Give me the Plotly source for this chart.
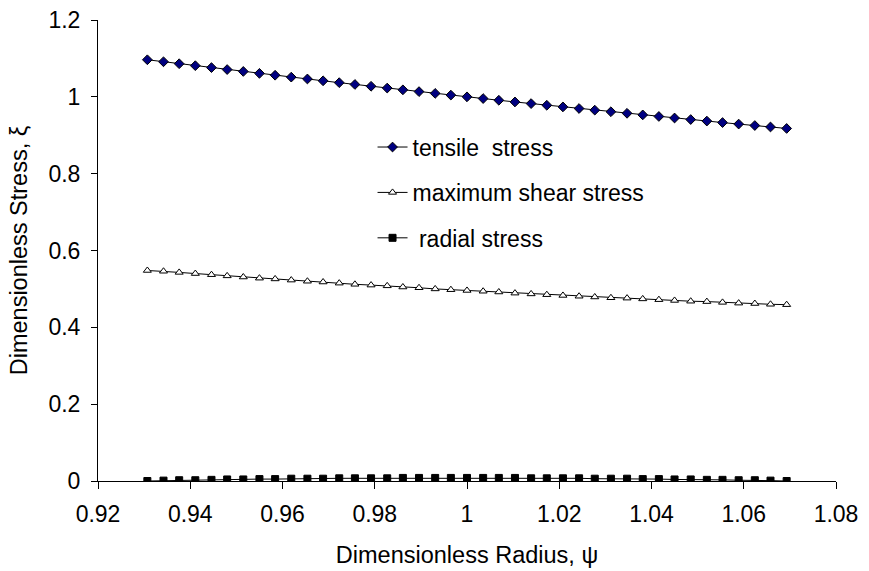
import plotly.graph_objects as go

# Dimensionless radius ψ at each computed station
psi = [0.9307, 0.9342, 0.9376, 0.9411, 0.9446, 0.9480, 0.9515, 0.9550, 0.9584, 0.9619,
       0.9654, 0.9688, 0.9723, 0.9757, 0.9792, 0.9827, 0.9861, 0.9896, 0.9931, 0.9965,
       1.0000, 1.0035, 1.0069, 1.0104, 1.0139, 1.0173, 1.0208, 1.0243, 1.0277, 1.0312,
       1.0347, 1.0381, 1.0416, 1.0450, 1.0485, 1.0520, 1.0554, 1.0589, 1.0624, 1.0658,
       1.0693]

# Dimensionless stresses ξ
tensile = [1.0965, 1.0913, 1.0862, 1.0811, 1.0761, 1.0710, 1.0661, 1.0611, 1.0562, 1.0513,
           1.0465, 1.0417, 1.0369, 1.0322, 1.0275, 1.0228, 1.0182, 1.0136, 1.0090, 1.0045,
           1.0000, 0.9955, 0.9911, 0.9867, 0.9824, 0.9781, 0.9738, 0.9696, 0.9654, 0.9612,
           0.9571, 0.9530, 0.9489, 0.9449, 0.9409, 0.9369, 0.9330, 0.9291, 0.9253, 0.9215,
           0.9177]

shear = [0.548, 0.546, 0.543, 0.540, 0.537, 0.534, 0.531, 0.528, 0.526, 0.523,
         0.520, 0.518, 0.515, 0.512, 0.510, 0.508, 0.505, 0.503, 0.500, 0.498,
         0.496, 0.494, 0.492, 0.489, 0.487, 0.485, 0.483, 0.481, 0.479, 0.477,
         0.476, 0.474, 0.472, 0.470, 0.468, 0.467, 0.465, 0.463, 0.462, 0.460,
         0.459]

radial = [0.000, 0.001, 0.002, 0.002, 0.003, 0.004, 0.004, 0.005, 0.005, 0.006,
          0.006, 0.006, 0.007, 0.007, 0.007, 0.007, 0.008, 0.008, 0.008, 0.008,
          0.008, 0.008, 0.008, 0.008, 0.007, 0.007, 0.007, 0.007, 0.006, 0.006,
          0.006, 0.005, 0.005, 0.004, 0.004, 0.003, 0.003, 0.002, 0.002, 0.001,
          0.000]

x_ticks = [0.92, 0.94, 0.96, 0.98, 1.00, 1.02, 1.04, 1.06, 1.08]
y_ticks = [0, 0.2, 0.4, 0.6, 0.8, 1.0, 1.2]

FONT = "Liberation Sans, Arial, sans-serif"

fig = go.Figure()

fig.add_trace(go.Scatter(
    x=psi, y=tensile, mode="lines+markers", name="tensile\u00a0 stress",
    legendgroup="t",
    line=dict(color="black", width=1),
    marker=dict(symbol="diamond", size=7.5, color="#000080",
                line=dict(color="black", width=1)),
))
fig.add_trace(go.Scatter(
    x=psi, y=shear, mode="lines+markers", name="maximum shear stress",
    legendgroup="s",
    line=dict(color="black", width=1),
    marker=dict(symbol="triangle-up", size=7, color="white",
                line=dict(color="black", width=1)),
))
fig.add_trace(go.Scatter(
    x=psi, y=radial, mode="lines+markers", name="\u00a0radial stress",
    legendgroup="r",
    line=dict(color="black", width=1),
    marker=dict(symbol="square", size=7, color="black",
                line=dict(color="black", width=1)),
))

fig.update_layout(
    width=869, height=571,
    margin=dict(l=98, r=33, t=20, b=90),
    paper_bgcolor="white", plot_bgcolor="white",
    font=dict(family=FONT, size=23, color="black"),
    showlegend=True,
    legend=dict(x=0.372, y=0.771, xanchor="left", yanchor="top",
                bgcolor="rgba(0,0,0,0)", font=dict(size=23),
                tracegroupgap=12.5, itemwidth=30),
    xaxis=dict(
        range=[0.92, 1.08], tickvals=x_ticks,
        ticktext=[f"{v:g}" for v in x_ticks],
        showgrid=False, zeroline=False, automargin=False,
        showline=True, linecolor="black", linewidth=1,
        ticks="outside", ticklen=7, tickcolor="black",
        ticklabelstandoff=5,
        tickfont=dict(size=23),
        title=dict(text="Dimensionless Radius, ψ", font=dict(size=23.5), standoff=20),
    ),
    yaxis=dict(
        range=[0, 1.2], tickvals=y_ticks,
        ticktext=[f"{v:g}" for v in y_ticks],
        showgrid=False, zeroline=False, automargin=False,
        showline=True, linecolor="black", linewidth=1,
        ticks="outside", ticklen=6, tickcolor="black",
        ticklabelstandoff=6,
        tickfont=dict(size=23),
        title=dict(text="Dimensionless Stress, ξ", font=dict(size=23.5), standoff=14),
    ),
)

fig.write_html("out.html")
